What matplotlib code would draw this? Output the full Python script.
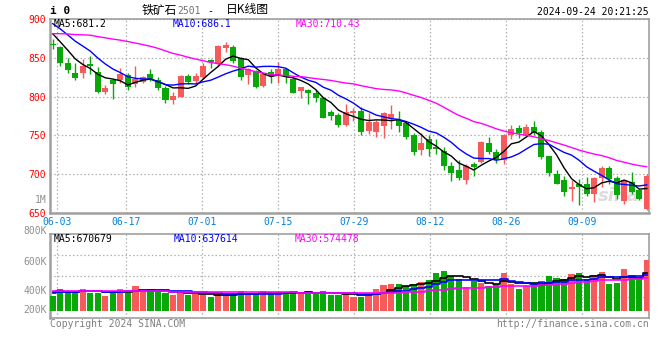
import numpy as np
import pandas as pd
import matplotlib
matplotlib.use('Agg')
import matplotlib.pyplot as plt

# ---------------- data ----------------
holidays = ['2024-06-10', '2024-09-16', '2024-09-17']
dates = [d for d in pd.bdate_range('2024-05-31', '2024-09-24')
         if d.strftime('%Y-%m-%d') not in holidays]

open_ = [868, 864, 843, 831, 830, 842, 832, 806, 821, 822,
         828, 816, 819, 829, 822, 811, 796, 800, 826, 820,
         825, 847, 842, 863, 864, 850, 828, 833, 814, 832,
         827, 836, 823, 807, 809, 804, 798, 780, 776, 763,
         779, 782, 756, 754, 762, 773, 770, 766, 750, 731,
         745, 735, 730, 711, 705, 692, 713, 716, 740, 728,
         718, 750, 759, 750, 761, 754, 723, 700, 693, 681,
         687, 687, 674, 695, 708, 695, 666, 690, 680, 655]
high = [874, 865, 850, 843, 848, 852, 838, 815, 823, 837,
        831, 840, 827, 836, 825, 814, 806, 828, 829, 830,
        843, 848, 866, 871, 867, 851, 837, 834, 830, 835,
        844, 837, 826, 813, 810, 808, 800, 783, 779, 790,
        785, 787, 779, 770, 780, 789, 781, 767, 753, 753,
        750, 746, 735, 716, 718, 713, 716, 743, 748, 733,
        752, 764, 764, 765, 768, 757, 724, 706, 698, 693,
        694, 696, 696, 710, 710, 698, 693, 703, 681, 700]
low = [861, 839, 831, 822, 824, 829, 804, 803, 797, 818,
       809, 812, 817, 820, 808, 792, 790, 799, 816, 818,
       823, 837, 840, 858, 843, 822, 816, 811, 812, 817,
       817, 817, 804, 798, 791, 793, 772, 770, 761, 762,
       769, 750, 752, 748, 747, 758, 754, 745, 725, 725,
       724, 726, 706, 691, 693, 688, 698, 715, 726, 715,
       713, 746, 747, 748, 750, 720, 698, 687, 672, 666,
       660, 672, 664, 684, 687, 668, 662, 675, 667, 654]
close = [866, 843, 834, 824, 840, 840, 806, 811, 816, 829,
         813, 823, 825, 823, 811, 796, 801, 826, 819, 826,
         840, 844, 865, 866, 846, 825, 836, 812, 829, 827,
         835, 825, 805, 812, 804, 798, 773, 775, 763, 780,
         781, 755, 767, 767, 779, 777, 762, 748, 728, 740,
         732, 733, 711, 701, 695, 711, 709, 742, 728, 718,
         750, 758, 753, 761, 753, 722, 701, 688, 677, 683,
         684, 674, 695, 708, 694, 673, 692, 677, 668, 698]
# volume in thousands of lots
volume = [268, 393, 341, 341, 393, 323, 323, 268, 358, 393,
          312, 446, 341, 393, 341, 323, 288, 358, 280, 300,
          290, 250, 300, 276, 294, 358, 312, 288, 358, 305,
          335, 341, 335, 305, 335, 294, 358, 282, 282, 323,
          253, 253, 264, 388, 459, 476, 476, 441, 476, 517,
          541, 676, 711, 609, 563, 423, 536, 496, 440, 468,
          665, 468, 394, 440, 496, 525, 609, 576, 558, 660,
          664, 562, 635, 680, 483, 488, 745, 637, 590, 894]
# closes / volumes of the 29 sessions before the window (estimated from the
# left ends of the moving-average lines)
prior_close = [840, 845, 850, 848, 855, 860, 858, 865, 870, 868,
               880, 885, 890, 888, 895, 898, 893, 900, 897, 905,
               910, 912, 905, 903, 905, 895, 888, 880, 876]
prior_volume = [360, 390, 410, 380, 350, 370, 400, 420, 360, 340,
                380, 390, 370, 350, 400, 380, 360, 390, 370, 390,
                300, 320, 290, 310, 305, 350, 370, 355, 360]

tick_labels = ['06-03', '06-17', '07-01', '07-15', '07-29', '08-12', '08-26', '09-09']
price_ticks = [650, 700, 750, 800, 850, 900]
vol_tick_labels = ['800K', '600K', '400K', '200K']
ma_price_text = ['MA5:681.2', 'MA10:686.1', 'MA30:710.43']
ma_vol_text = ['MA5:670679', 'MA10:637614', 'MA30:574478']

# ---------------- styling ----------------
W, H = 660, 360
RED = '#f65a5a'
GREEN = '#08a808'
GRID = '#b0b0b0'
FRAME = '#a0a0a0'
MONO = 'DejaVu Sans Mono'
FS = 7

def fx(px):
    return px / W

def fy(py):
    return 1 - py / H

fig = plt.figure(figsize=(W / 100, H / 100), dpi=100)
fig.patch.set_facecolor('white')

ax = fig.add_axes([fx(50), fy(213), fx(649) - fx(50), fy(19) - fy(213)])
axv = fig.add_axes([fx(50), fy(318), fx(649) - fx(50), fy(234) - fy(318)])

n = len(close)
x = np.arange(n)
o = np.array(open_, float)
c = np.array(close, float)
hi = np.array(high, float)
lo = np.array(low, float)
up = c >= o
cols = [RED if u else GREEN for u in up]

# moving averages
full_close = pd.Series(prior_close + close, dtype=float)
full_vol = pd.Series(prior_volume + volume, dtype=float)
k = len(prior_close)
ma = {p: full_close.rolling(p).mean().iloc[k:].to_numpy() for p in (5, 10, 30)}
mav = {p: full_vol.rolling(p).mean().iloc[k:].to_numpy() for p in (5, 10, 30)}

# faint watermark behind the last candles
ax.text(0.985, 0.09, 'sina', transform=ax.transAxes, ha='right', va='center',
        fontsize=13, weight='bold', style='italic', color='#dcdcdc',
        family='DejaVu Sans', zorder=1)

# candles
ax.vlines(x, lo, hi, colors=cols, linewidth=1.0, zorder=3)
body = np.maximum(np.abs(c - o), 0.6)
ax.bar(x, body, bottom=np.minimum(o, c), width=0.8, color=cols,
       linewidth=0, zorder=4)
ax.plot(x, ma[5], color='black', lw=1.0, zorder=5)
ax.plot(x, ma[10], color='#0000ff', lw=1.0, zorder=5)
ax.plot(x, ma[30], color='#ff00ff', lw=1.0, zorder=5)

# volume
axv.bar(x, volume, width=0.82, color=cols, linewidth=0, zorder=3)
axv.plot(x, mav[5], color='black', lw=1.2, zorder=5, drawstyle='steps-mid')
axv.plot(x, mav[10], color='#0000ff', lw=1.2, zorder=5, drawstyle='steps-mid')
axv.plot(x, mav[30], color='#ff00ff', lw=1.2, zorder=5, drawstyle='steps-mid')

# axes limits
xlo, xhi = -0.36, n - 1 + 0.3
for a in (ax, axv):
    a.set_xlim(xlo, xhi)
    for s in a.spines.values():
        s.set_color(FRAME)
        s.set_linewidth(1.2)
    a.spines['left'].set_linewidth(1.8)
ax.spines['bottom'].set_linewidth(1.8)
ax.set_ylim(650, 900)
vscale = 0.0567  # px per thousand
axv.set_ylim(-7 / vscale, 77 / vscale)

# date grid positions (Sina draws the date grid with a slightly wider step)
md = [d.strftime('%m-%d') for d in dates]
tick_idx = [md.index(t) for t in tick_labels]
grid_x = [0.61 + (i - 1) * 1.0107 for i in tick_idx]

ax.set_xticks(grid_x)
ax.set_xticklabels(tick_labels, family=MONO, fontsize=FS, color='#0080e0')
ax.set_yticks(price_ticks)
ax.set_yticklabels([str(p) for p in price_ticks], family=MONO, fontsize=FS, color='#ff0000')
ax.tick_params(length=0, pad=2.8)
ax.tick_params(axis='y', pad=3)
ax.grid(True, color=GRID, linestyle=(0, (1.2, 1.8)), linewidth=0.9, zorder=0)
ax.set_axisbelow(True)

vlo, vhi = axv.get_ylim()
axv.set_xticks(grid_x)
axv.set_yticks([vlo + (vhi - vlo) * q for q in (0.25, 0.5, 0.75)])
axv.set_xticklabels([])
axv.set_yticklabels([])
axv.tick_params(length=0)
axv.grid(True, color=GRID, linestyle=(0, (1.2, 1.8)), linewidth=0.9, zorder=0)
axv.set_axisbelow(True)

# ---------------- texts ----------------
fig.text(fx(50), fy(11), 'i 0', family=MONO, fontsize=8, weight='bold',
         va='center', ha='left', color='black')
cjk = ['Noto Sans CJK SC', 'DejaVu Sans']
fig.text(fx(142), fy(10), '铁矿石', family=cjk, fontsize=8.5, va='center', ha='left')
fig.text(fx(177.5), fy(11), '2501', family=MONO, fontsize=FS, va='center', ha='left', color='#707070')
fig.text(fx(210.5), fy(11), '-', family=MONO, fontsize=FS, va='center', ha='center')
fig.text(fx(226), fy(10), '日K线图', family=cjk, fontsize=8.5, va='center', ha='left')
fig.text(fx(649), fy(12), '2024-09-24 20:21:25', family=MONO, fontsize=FS,
         va='center', ha='right', color='black')

for txt, px, colr in zip(ma_price_text, (54, 173, 295.5), ('black', '#0000ff', '#ff00ff')):
    fig.text(fx(px), fy(24), txt, family=MONO, fontsize=FS, va='center', ha='left', color=colr)
for txt, px, colr in zip(ma_vol_text, (54, 174, 295), ('black', '#0000ff', '#ff00ff')):
    fig.text(fx(px), fy(238.5), txt, family=MONO, fontsize=FS, va='center', ha='left', color=colr)

fig.text(fx(46.5), fy(200), '1M', family=MONO, fontsize=FS, va='center', ha='right', color='#909090')
for lab, py in zip(vol_tick_labels, (231, 262, 291, 310)):
    fig.text(fx(46.5), fy(py), lab, family=MONO, fontsize=FS, va='center', ha='right', color='#909090')

fig.text(fx(50), fy(324), 'Copyright 2024 SINA.COM', family=MONO, fontsize=FS,
         va='center', ha='left', color='#808080')
fig.text(fx(649), fy(324), 'http://finance.sina.com.cn', family=MONO, fontsize=FS,
         va='center', ha='right', color='#808080')

fig.savefig('out.png', dpi=100, facecolor='white')
